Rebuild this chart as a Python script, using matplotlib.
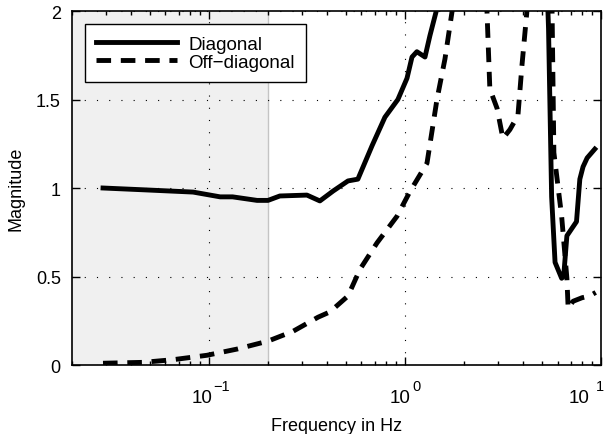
import matplotlib.pyplot as plt
from matplotlib.ticker import LogLocator, NullFormatter

plt.rcParams['font.family'] = ['Liberation Sans', 'DejaVu Sans']
plt.rcParams['font.size'] = 13

# diagonal element magnitude
freq_diag = [0.0288, 0.046, 0.083, 0.114, 0.132, 0.176, 0.2, 0.23, 0.316, 0.368,
             0.43, 0.512, 0.575, 0.68, 0.79, 0.92, 1.024, 1.086, 1.15, 1.265, 1.34,
             1.46, 1.7, 2.2, 3.0, 4.0, 5.0, 5.4, 5.6, 5.83, 6.3, 6.45, 6.7, 7.5,
             7.8, 8.1, 8.5, 9.3]
mag_diag = [1.0, 0.99, 0.977, 0.95, 0.95, 0.93, 0.93, 0.955, 0.96, 0.927,
            0.983, 1.04, 1.05, 1.24, 1.40, 1.50, 1.62, 1.74, 1.77, 1.74, 1.86,
            2.02, 2.6, 3.5, 4.0, 3.6, 3.0, 1.9, 0.95, 0.58, 0.49, 0.5, 0.73, 0.81,
            1.05, 1.12, 1.17, 1.22]

# off-diagonal element magnitude
freq_off = [0.0288, 0.046, 0.0655, 0.0977, 0.139, 0.2, 0.268, 0.36, 0.414, 0.512,
            0.589, 0.72, 0.91, 1.06, 1.295, 1.456, 1.6, 1.74, 2.0, 2.3, 2.62, 2.71,
            2.95, 3.16, 3.43, 3.77, 3.95, 4.19, 4.6, 5.2, 5.6, 5.75, 6.3, 6.7, 6.8,
            7.2, 8.0, 8.75, 9.4]
mag_off = [0.01, 0.015, 0.03, 0.055, 0.09, 0.135, 0.19, 0.27, 0.30, 0.39,
           0.54, 0.69, 0.84, 0.98, 1.14, 1.50, 1.73, 2.0, 2.6, 2.8, 2.0, 1.56,
           1.45, 1.28, 1.33, 1.41, 1.69, 2.0, 2.7, 2.6, 2.2, 1.2, 0.84, 0.49, 0.32,
           0.36, 0.38, 0.39, 0.41]

shade_lo, shade_hi = 0.02, 0.2
x_exponents = [-1, 0, 1]

fig = plt.figure(figsize=(6.12, 4.35), dpi=100)
ax = fig.add_axes([0.1176, 0.1586, 0.8644, 0.8138])

ax.axvspan(shade_lo, shade_hi, color='#f0f0f0', lw=0, zorder=0)
ax.axvline(shade_hi, color='#c4c4c4', lw=1, zorder=0.5)

ax.plot(freq_diag, mag_diag, 'k-', lw=3.5, label='Diagonal')
ax.plot(freq_off, mag_off, 'k--', lw=3.5, dashes=(3, 2), dash_capstyle='butt',
        label='Off\u2212diagonal')

ax.set_xscale('log')
ax.set_xlim(0.02, 10)
ax.set_ylim(0, 2)
ax.set_yticks([0, 0.5, 1, 1.5, 2])
ax.set_yticklabels(['0', '0.5', '1', '1.5', '2'])
ax.set_xticks([10.0 ** e for e in x_exponents])
ax.xaxis.set_minor_locator(LogLocator(base=10, subs=range(2, 10), numticks=20))
ax.xaxis.set_minor_formatter(NullFormatter())

ax.tick_params(which='both', direction='in', top=True, right=True, width=1)
ax.tick_params(which='major', length=6)
ax.tick_params(which='minor', length=3)
ax.tick_params(axis='y', pad=8)
ax.tick_params(axis='x', labelbottom=False)
for s in ax.spines.values():
    s.set_linewidth(1.2)

# matlab style tick labels: exponent sits fully above the "10"
label_shift = {-1: 3.5, 0: 6, 1: -11}
exp_gap = {-1: 1, 0: 1, 1: 6}
for e in x_exponents:
    ax.annotate('10', xy=(10.0 ** e, 0), xycoords=('data', 'axes fraction'),
                xytext=(label_shift[e], -37), textcoords='offset pixels',
                ha='right', va='baseline', fontsize=13.5, annotation_clip=False)
    ax.annotate(str(e).replace('-', '\u2212'), xy=(10.0 ** e, 0),
                xycoords=('data', 'axes fraction'),
                xytext=(label_shift[e] + exp_gap[e], -25), textcoords='offset pixels',
                ha='left', va='baseline', fontsize=10.5, annotation_clip=False)

ax.grid(True, which='major', color='k', lw=0.8, linestyle=(0, (1, 10)))
ax.set_axisbelow(True)

ax.set_xlabel('Frequency in Hz', labelpad=34)
ax.set_ylabel('Magnitude', labelpad=8)

leg = ax.legend(loc='upper left', bbox_to_anchor=(0.0, 1.0), borderaxespad=0.7,
                handlelength=4.3, handletextpad=0.6, labelspacing=0.05,
                fancybox=False, framealpha=1, edgecolor='k', borderpad=0.6,
                fontsize=13.5)
leg.get_frame().set_linewidth(1)

plt.savefig('out.png', dpi=100)
plt.close()
